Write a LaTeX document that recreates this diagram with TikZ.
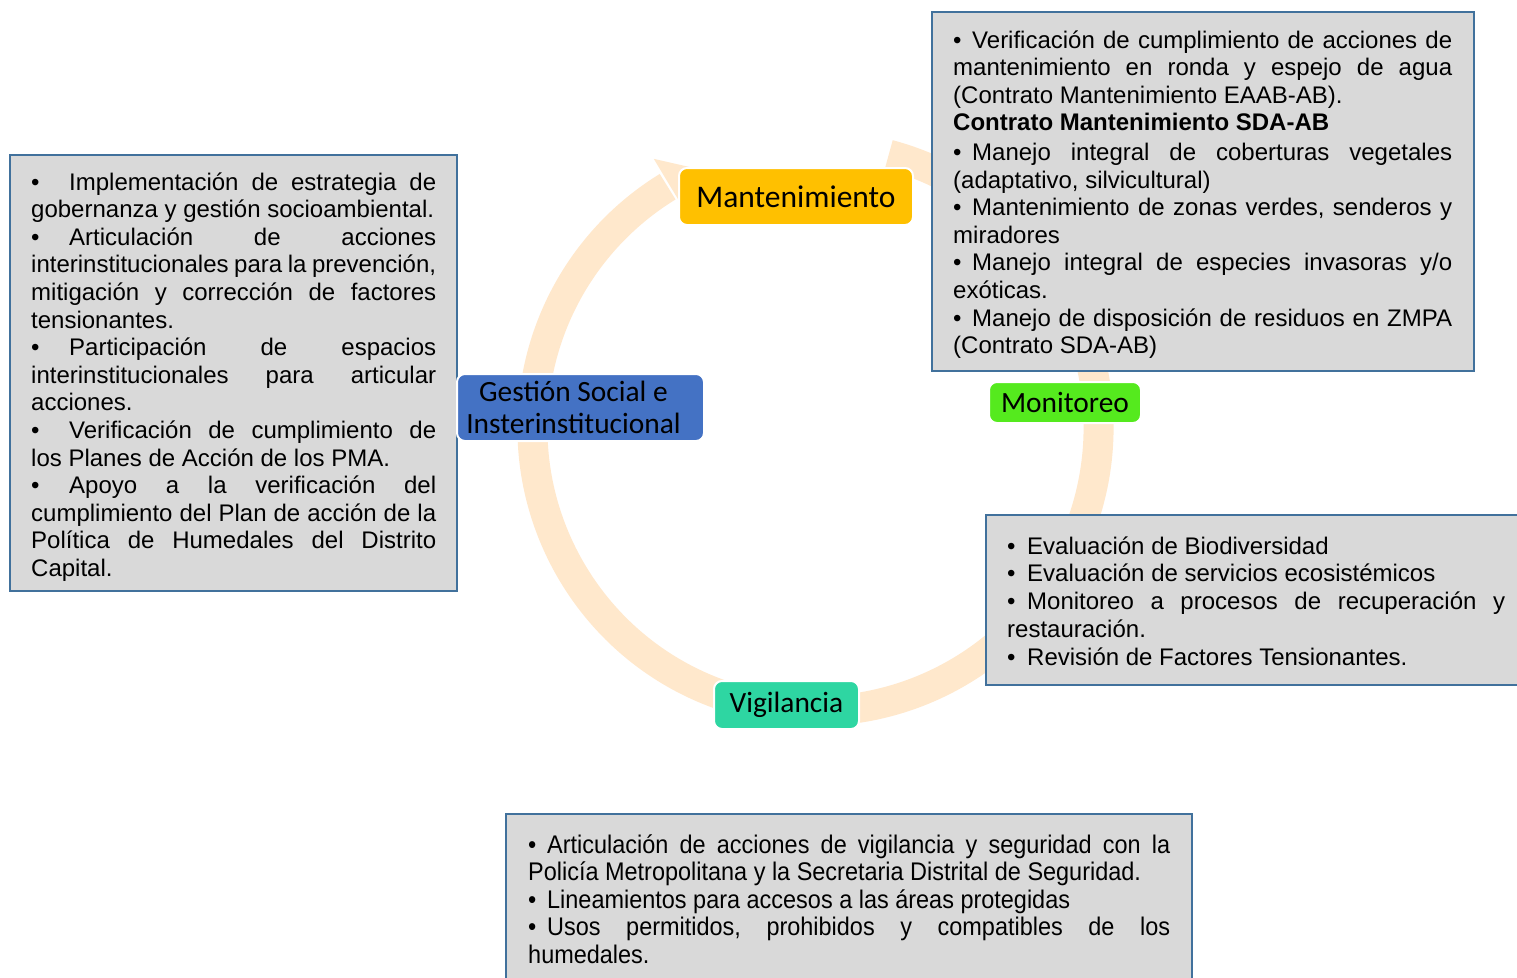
\documentclass[tikz,border=0pt]{standalone}
\usepackage{fontspec}
\setmainfont{Liberation Sans}
\newfontfamily\calib{Carlito}
\newfontfamily\narrowf[FakeStretch=0.92]{Liberation Sans}
\usetikzlibrary{calc}
\definecolor{ringc}{RGB}{255,232,204}
\definecolor{boxfill}{RGB}{217,217,217}
\definecolor{boxline}{RGB}{65,113,156}
\definecolor{mantc}{RGB}{255,192,0}
\definecolor{monic}{RGB}{85,234,30}
\definecolor{gestc}{RGB}{68,114,196}
\definecolor{vigic}{RGB}{46,214,162}
\frenchspacing
\hbadness=10000
\hfuzz=20pt
\newlength\lw
\newcommand\justl[1]{\hbox to\lw{\spaceskip=.278em plus 1fil minus .12em\relax #1}}
\newcommand\natl[1]{\hbox{#1}}
\newcommand\bulA{\makebox[38pt][l]{•}}
\newcommand\bulB{\makebox[19pt][l]{•}}
\newcommand\bulC{\makebox[20pt][l]{•}}
\newcommand\bulD{\makebox[19pt][l]{•}}
\tikzset{
  tbox/.style={draw=boxline, fill=boxfill, line width=2.5pt},
  lab/.style={draw=white, line width=2pt, rounded corners=8pt, inner sep=0pt, text=black, font=\calib\fontsize{29.4}{32}\selectfont},
  ringline/.style={draw=ringc, line width=30pt},
  txt/.style={anchor=base west, inner sep=0pt, text=black}
}
\begin{document}
\begin{tikzpicture}[x=1pt,y=-1pt]
\useasboundingbox (0,0) rectangle (1517,977);
\clip (0,0) rectangle (1517,977);
\fill[white] (0,0) rectangle (1517,977);
% ring
\coordinate (C) at (815.5,428);
\coordinate (rs) at ($(C)+(75:283pt)$);
\draw[ringline] (rs) arc[start angle=75, end angle=-238.5, radius=283pt];
\coordinate (hw1) at ($(C)+(121:252pt)$);
\coordinate (hw2) at ($(C)+(121:314pt)$);
\coordinate (ht) at ($(C)+(114:283pt)$);
\fill[ringc] (hw1) -- (hw2) -- (ht) -- cycle;
% text boxes
\draw[tbox] (10,155) rectangle (457,591);
\node[txt] (tl) at (31,190) {\fontsize{24}{27.6}\selectfont\setlength\lw{405pt}\parbox[t]{405pt}{\baselineskip=27.6pt
\justl{\bulA Implementación de estrategia de}
\natl{gobernanza y gestión socioambiental.}
\justl{\bulA Articulación de acciones}
\justl{interinstitucionales para la prevención,}
\justl{mitigación y corrección de factores}
\natl{tensionantes.}
\justl{\bulA Participación de espacios}
\justl{interinstitucionales para articular}
\natl{acciones.}
\justl{\bulA Verificación de cumplimiento de}
\natl{los Planes de Acción de los PMA.}
\justl{\bulA Apoyo a la verificación del}
\justl{cumplimiento del Plan de acción de la}
\justl{Política de Humedales del Distrito}
\natl{Capital.}}};
\draw[tbox] (932,12) rectangle (1474,371);
\node[txt] (tr) at (953,48) {\fontsize{24}{27.6}\selectfont\setlength\lw{499pt}\parbox[t]{499pt}{\baselineskip=27.6pt
\justl{\bulB Verificación de cumplimiento de acciones de}
\justl{mantenimiento en ronda y espejo de agua}
\natl{(Contrato Mantenimiento EAAB-AB).}
\natl{\bfseries Contrato Mantenimiento SDA-AB}
\vskip2pt
\justl{\bulB Manejo integral de coberturas vegetales}
\natl{(adaptativo, silvicultural)}
\justl{\bulB Mantenimiento de zonas verdes, senderos y}
\natl{miradores}
\justl{\bulB Manejo integral de especies invasoras y/o}
\natl{exóticas.}
\justl{\bulB Manejo de disposición de residuos en ZMPA}
\natl{(Contrato SDA-AB)}}};
\draw[tbox] (986,515) rectangle (1530,685);
\node[txt] (rm) at (1007,554) {\fontsize{24}{27.75}\selectfont\setlength\lw{498pt}\parbox[t]{498pt}{\baselineskip=27.75pt
\natl{\bulC Evaluación de Biodiversidad}
\natl{\bulC Evaluación de servicios ecosistémicos}
\justl{\bulC Monitoreo a procesos de recuperación y}
\natl{restauración.}
\natl{\bulC Revisión de Factores Tensionantes.}}};
\draw[tbox] (506,814) rectangle (1192,990);
\node[txt] (bt) at (528,853) {\narrowf\fontsize{25.5}{27.5}\selectfont\setlength\lw{642pt}\parbox[t]{642pt}{\baselineskip=27.5pt
\justl{\bulD Articulación de acciones de vigilancia y seguridad con la}
\natl{Policía Metropolitana y la Secretaria Distrital de Seguridad.}
\natl{\bulD Lineamientos para accesos a las áreas protegidas}
\justl{\bulD Usos permitidos, prohibidos y compatibles de los}
\natl{humedales.}}};
% labels
\node[lab, fill=mantc, minimum width=234pt, minimum height=57pt, font=\calib\fontsize{31.5}{34}\selectfont] (mant) at (796,196.5) {Mantenimiento};
\node[lab, fill=monic, minimum width=152pt, minimum height=41pt] (moni) at (1065,402.5) {Monitoreo};
\node[lab, fill=gestc, minimum width=247pt, minimum height=67pt] (gest) at (580.5,407.5) {};
\node[inner sep=0pt, align=center, text=black, font=\calib\fontsize{29.4}{32}\selectfont] (gestt) at (573.5,407.5) {Gestión Social e\\Insterinstitucional};
\node[lab, fill=vigic, minimum width=145pt, minimum height=48pt] (vigi) at (786.5,705) {Vigilancia};
\end{tikzpicture}
\end{document}
